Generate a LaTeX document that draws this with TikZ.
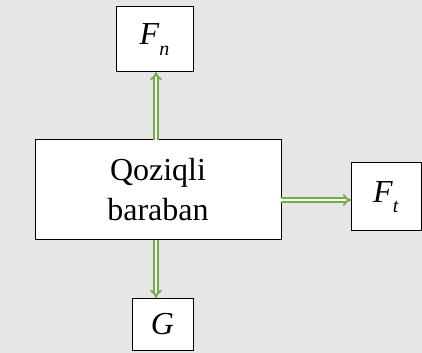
\documentclass[tikz,border=0pt]{standalone}
\usepackage{fontspec}
\setmainfont{Liberation Serif}
\usepackage{xcolor}
\usetikzlibrary{arrows.meta,calc,positioning}

\definecolor{bggray}{HTML}{E7E6E6}
\definecolor{arrowgreen}{HTML}{70AD47}

% force symbol with lowered index
\newcommand{\forcesym}[2]{\textit{#1}\raisebox{-0.7ex}{\fontsize{15}{15}\selectfont\textit{#2}}}

\begin{document}
\begin{tikzpicture}[x=0.75pt, y=-0.75pt, arrow/.style = {draw=arrowgreen, double=white, double distance=1.4pt, line width=1.4pt, -{Implies}}]
		\tikzset{box/.style={draw=black,line width=0.75pt,fill=white,rectangle,inner sep=0pt,outer sep=0pt,align=center,font=\fontsize{24}{30}\selectfont}}

		% background
		\fill[bggray] (0,0) rectangle (422,353);
		\useasboundingbox (0,0) rectangle (422,353);

		% drum
		\node[box, minimum width=184.5pt, minimum height=75pt] (drum) at (158,190) {Qoziqli\\baraban};

		% forces
		\node[box, minimum width=57.75pt, minimum height=48.75pt] (fn) at (154.5,39.5) {\forcesym{F}{n}};

		\node[box, minimum width=52.5pt, minimum height=51pt] (ft) at (386,197) {\forcesym{F}{t}};

		\node[box, minimum width=45.75pt, minimum height=39pt] (g) at (162.5,324) {\textit{G}};

		% Arrows
		\draw [arrow] ($(drum.north -| fn.south)+(1.5,0)$) -- ($(fn.south)+(1.5,0)$);
		\draw [arrow] ($(drum.south -| fn.south)+(1.5,0)$) -- ($(g.north -| fn.south)+(1.5,0)$);
		\draw [arrow] ($(drum.east |- ft.west)+(0,3)$) -- ($(ft.west)+(0,3)$);

	\end{tikzpicture}
\end{document}
